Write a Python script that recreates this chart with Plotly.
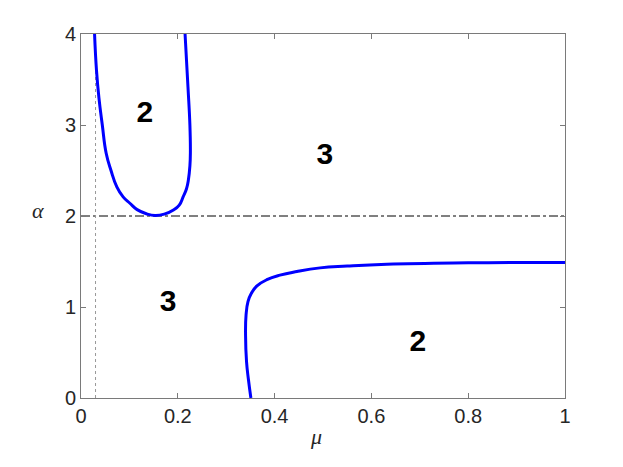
import plotly.graph_objects as go

# Curve 1 (U-shaped boundary)
mu1 = [0.028, 0.032, 0.037, 0.044, 0.052, 0.062, 0.074, 0.087, 0.101, 0.116, 0.135, 0.153,
       0.172, 0.191, 0.203, 0.211, 0.218, 0.222, 0.225, 0.226, 0.225, 0.221, 0.215]
al1 = [4.0, 3.6, 3.3, 3.0, 2.69, 2.5, 2.32, 2.21, 2.14, 2.07, 2.025, 2.005,
       2.02, 2.066, 2.12, 2.21, 2.30, 2.40, 2.55, 2.70, 3.0, 3.42, 4.0]

# Curve 2 (lower-right boundary)
mu2 = [0.351, 0.346, 0.342, 0.340, 0.341, 0.345, 0.352, 0.363, 0.384, 0.411, 0.446, 0.494, 0.550, 0.632, 0.800, 1.000]
al2 = [0.0, 0.2, 0.4, 0.69, 0.91, 1.06, 1.15, 1.23, 1.30, 1.35, 1.39, 1.43, 1.45, 1.47, 1.485, 1.49]

# Reference lines
alpha_ref = 2.0
mu_ref = 0.03

# Region labels
lab_mu = [0.132, 0.504, 0.180, 0.696]
lab_al = [3.11, 2.65, 1.04, 0.60]
lab_txt = ["2", "3", "3", "2"]

x_ticks = [0, 0.2, 0.4, 0.6, 0.8, 1]
x_tick_text = ["0", "0.2", "0.4", "0.6", "0.8", "1"]
y_ticks = [0, 1, 2, 3, 4]
y_tick_text = ["0", "1", "2", "3", "4"]

fig = go.Figure()
fig.add_trace(go.Scatter(x=[0, 1], y=[alpha_ref, alpha_ref], mode="lines",
                         line=dict(color="black", width=1, dash="dashdot"), hoverinfo="skip"))
fig.add_trace(go.Scatter(x=[mu_ref, mu_ref], y=[0, 4], mode="lines",
                         line=dict(color="#999999", width=1, dash="dot"), hoverinfo="skip"))
fig.add_trace(go.Scatter(x=mu1, y=al1, mode="lines", line=dict(color="#0000ff", width=3, shape="spline", smoothing=1.3)))
fig.add_trace(go.Scatter(x=mu2, y=al2, mode="lines", line=dict(color="#0000ff", width=3, shape="spline", smoothing=1.3)))
fig.add_trace(go.Scatter(x=lab_mu, y=lab_al, mode="text", text=lab_txt,
                         textfont=dict(family="Liberation Sans", size=30, color="black", weight="bold")))

axis_common = dict(showgrid=False, zeroline=False, showline=True, linecolor="#7a7a7a", linewidth=1,
                   mirror="allticks", ticks="inside", ticklen=5, tickcolor="#7a7a7a",
                   tickfont=dict(family="Liberation Sans", size=20, color="#262626"))

fig.update_layout(
    width=607, height=451,
    margin=dict(l=73, r=50, t=26, b=61),
    paper_bgcolor="white", plot_bgcolor="white",
    showlegend=False,
    xaxis=dict(range=[0, 1], tickvals=x_ticks, ticktext=x_tick_text, **axis_common),
    yaxis=dict(range=[0, 4], tickvals=y_ticks, ticktext=y_tick_text, **axis_common),
    annotations=[
        dict(text="<i>μ</i>", xref="paper", yref="paper", x=0.4855, y=-0.107, showarrow=False,
             xanchor="center", yanchor="middle", font=dict(family="Liberation Serif", size=22, color="#262626")),
        dict(text="<i>α</i>", xref="paper", yref="paper", x=-0.089, y=0.516, showarrow=False,
             xanchor="center", yanchor="middle", font=dict(family="Liberation Serif", size=22, color="#262626")),
    ],
)

fig.write_html("out.html")
